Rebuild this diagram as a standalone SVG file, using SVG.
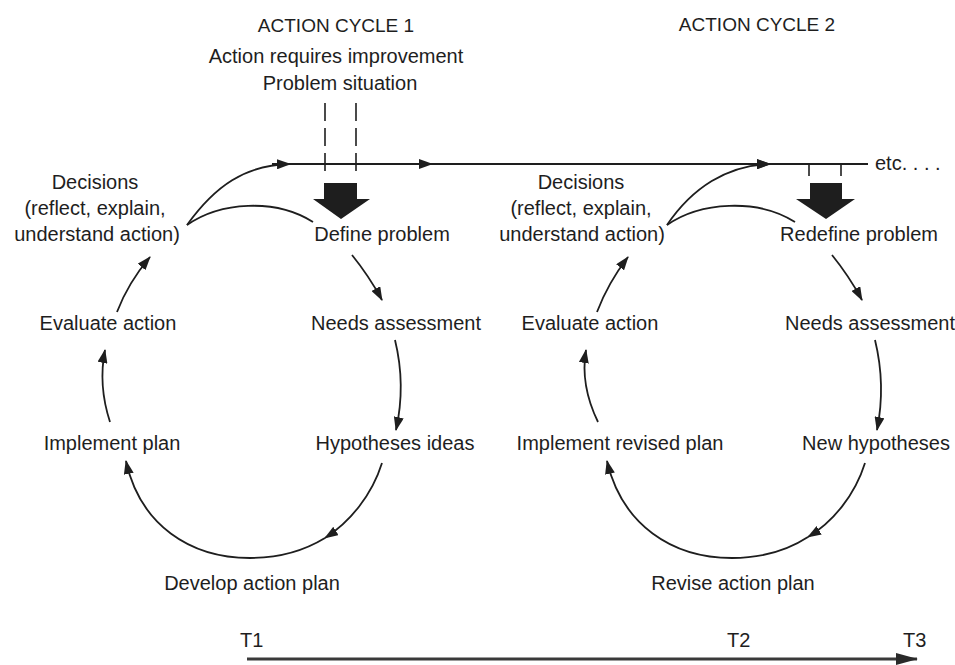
<svg xmlns="http://www.w3.org/2000/svg" width="955" height="665" viewBox="0 0 955 665">
<defs>
<style>
text{font-family:"Liberation Sans",Arial,sans-serif;font-size:20px;fill:#1e1e1e}
.c{text-anchor:middle}
.cap{font-size:19px}
.ln{fill:none;stroke:#1e1e1e;stroke-width:1.8}
.dash{fill:none;stroke:#1e1e1e;stroke-width:1.6;stroke-dasharray:18 7}
.tick{fill:none;stroke:#1e1e1e;stroke-width:1.6}
.big{fill:#1e1e1e}
.time{fill:none;stroke:#3a3a3a;stroke-width:3}
</style>
<marker id="ah" markerUnits="userSpaceOnUse" markerWidth="14" markerHeight="10" refX="13" refY="5" orient="auto">
<path d="M0,0 L14,5 L0,10 Z" fill="#1e1e1e"/>
</marker>
<marker id="ahT" markerUnits="userSpaceOnUse" markerWidth="22" markerHeight="12" refX="21" refY="6" orient="auto">
<path d="M0,0 L22,6 L0,12 Z" fill="#2a2a2a"/>
</marker>
</defs>

<g id="headers">
<text class="c cap" x="336" y="32">ACTION CYCLE 1</text>
<text class="c" x="336" y="63">Action requires improvement</text>
<text class="c" x="340" y="90">Problem situation</text>
<text class="c cap" x="757" y="31">ACTION CYCLE 2</text>
</g>

<g id="cycle1-nodes">
<g id="decisions1">
<text class="c" x="95" y="189">Decisions</text>
<text class="c" x="95" y="215">(reflect, explain,</text>
<text class="c" x="97" y="241">understand action)</text>
</g>
<g id="define1"><text class="c" x="382" y="241">Define problem</text></g>
<g id="needs1"><text class="c" x="396" y="330">Needs assessment</text></g>
<g id="hyp1"><text class="c" x="395" y="450">Hypotheses ideas</text></g>
<g id="develop1"><text class="c" x="252" y="590">Develop action plan</text></g>
<g id="implement1"><text class="c" x="112" y="450">Implement plan</text></g>
<g id="evaluate1"><text class="c" x="108" y="330">Evaluate action</text></g>
</g>

<g id="cycle2-nodes">
<g id="decisions2">
<text class="c" x="581" y="189">Decisions</text>
<text class="c" x="581" y="215">(reflect, explain,</text>
<text class="c" x="582" y="241">understand action)</text>
</g>
<g id="define2"><text class="c" x="859" y="241">Redefine problem</text></g>
<g id="needs2"><text class="c" x="870" y="330">Needs assessment</text></g>
<g id="hyp2"><text class="c" x="876" y="450">New hypotheses</text></g>
<g id="develop2"><text class="c" x="733" y="590">Revise action plan</text></g>
<g id="implement2"><text class="c" x="620" y="450">Implement revised plan</text></g>
<g id="evaluate2"><text class="c" x="590" y="330">Evaluate action</text></g>
</g>

<g id="etc"><text x="875" y="170">etc. . . .</text></g>

<g id="timeline-labels">
<text x="240" y="647">T1</text>
<text x="727" y="647">T2</text>
<text x="903" y="647">T3</text>
</g>

<g id="connectors">
<!-- main horizontal line -->
<path class="ln" d="M272,164 H432" marker-end="url(#ah)"/>
<path class="ln" d="M432,164 H770" marker-end="url(#ah)"/>
<path class="ln" d="M770,164 H868"/>
<!-- dashed lines -->
<path class="dash" d="M325,103 V178"/>
<path class="dash" d="M356,103 V178"/>
<!-- ticks cycle 2 -->
<path class="tick" d="M809,164 V176"/>
<path class="tick" d="M841,164 V176"/>
<!-- big arrows -->
<polygon class="big" points="324,183 357,183 357,199 370,199 341,219 313,199 324,199"/>
<polygon class="big" points="810,183 842,183 842,199 855,199 826,219 796,199 810,199"/>

<!-- cycle 1 -->
<path class="ln" d="M187,225 C215,186 245,165 290,164" marker-end="url(#ah)"/>
<path class="ln" d="M187,225 C220,202 275,198 313,222"/>
<path class="ln" d="M352,255 Q369,276 382,300" marker-end="url(#ah)"/>
<path class="ln" d="M395,340 Q406,385 396,430" marker-end="url(#ah)"/>
<path class="ln" d="M382,463 C372,495 350,522 325,538" marker-end="url(#ah)"/>
<path class="ln" d="M325,538 C302,552 276,558 250,558 C190,558 140,525 126,461" marker-end="url(#ah)"/>
<path class="ln" d="M110,422 Q98,385 105,350" marker-end="url(#ah)"/>
<path class="ln" d="M117,312 Q128,283 150,257" marker-end="url(#ah)"/>

<!-- cycle 2 -->
<path class="ln" d="M667,225 C692,188 727,165 770,164" marker-end="url(#ah)"/>
<path class="ln" d="M667,225 C700,202 757,198 795,222"/>
<path class="ln" d="M832,255 Q849,276 862,300" marker-end="url(#ah)"/>
<path class="ln" d="M875,340 Q886,385 877,430" marker-end="url(#ah)"/>
<path class="ln" d="M865,463 C855,495 833,522 808,537" marker-end="url(#ah)"/>
<path class="ln" d="M808,537 C785,552 758,558 732,558 C672,558 622,525 607,461" marker-end="url(#ah)"/>
<path class="ln" d="M598,422 Q580,385 586,350" marker-end="url(#ah)"/>
<path class="ln" d="M597,312 Q608,283 628,257" marker-end="url(#ah)"/>

<!-- timeline -->
<path class="time" d="M247,659 H917" marker-end="url(#ahT)"/>
</g>
</svg>
